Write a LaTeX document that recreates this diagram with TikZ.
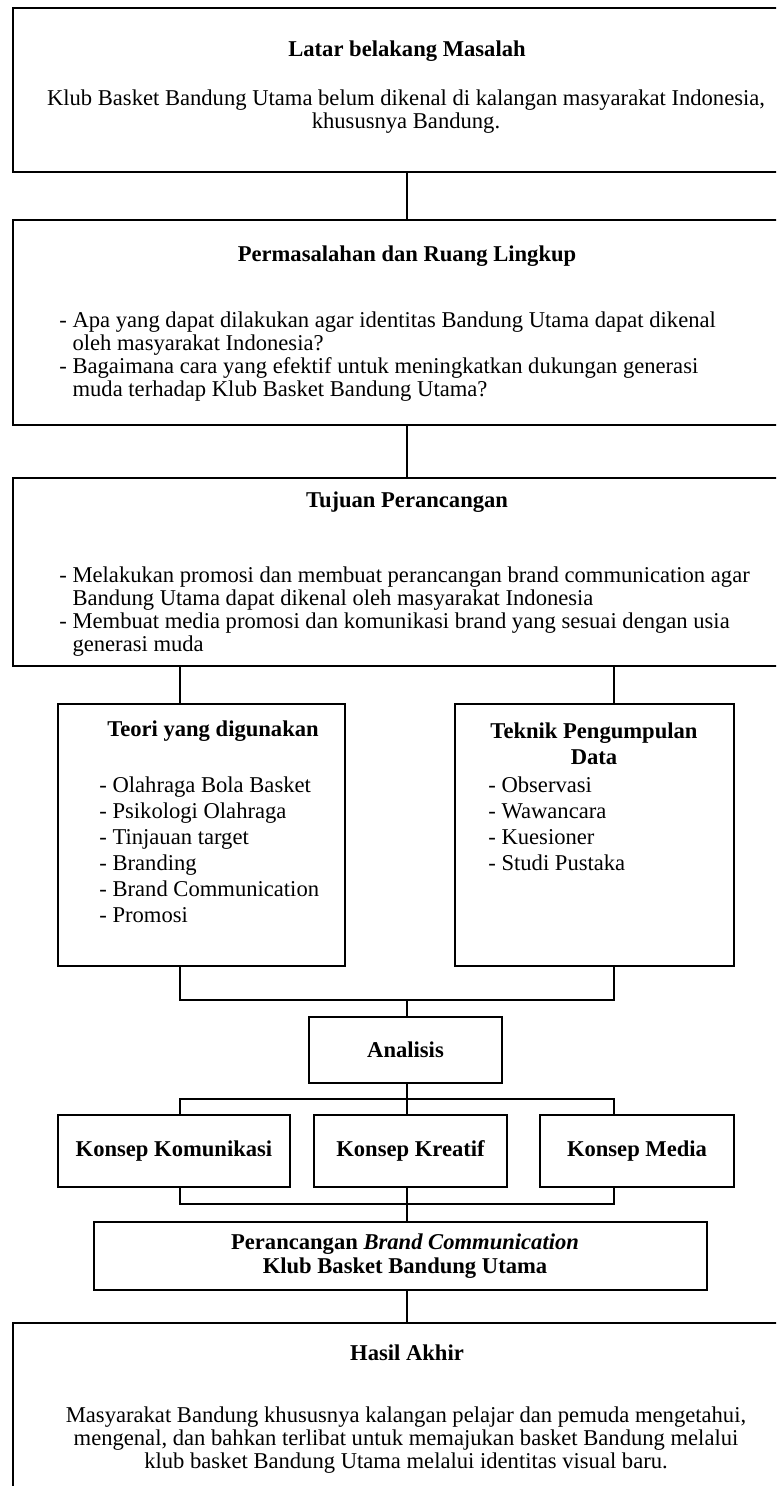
\documentclass[tikz,border=0pt]{standalone}
\usepackage{fontspec}
\setmainfont{Liberation Serif}
\usetikzlibrary{positioning,fit}

\begin{document}
\begin{tikzpicture}[x=0.5pt,y=-0.5pt,
 font=\fontsize{11.3}{11.5}\selectfont,
 box/.style={draw,line width=0.8pt,inner sep=0pt},
 ttl/.style={font=\fontsize{11.3}{13}\selectfont\bfseries,inner sep=0pt,align=center},
 body/.style={inner sep=0pt,anchor=west,align=left},
 list/.style={body,font=\fontsize{11.3}{13}\selectfont},
 conn/.style={line width=0.7pt}]
\useasboundingbox (0,0) rectangle (776,1486);
\clip (0,0) rectangle (776,1486);
% columns for the connectors
\coordinate (bl) at (180,0);
\coordinate (mc) at (407,0);
\coordinate (br) at (614,0);
% boxes
\node[box,fit={(13,8) (801,172)}] (latar) {};
\node[box,fit={(13,220) (801,425)}] (masalah) {};
\node[box,fit={(13,478) (801,666)}] (tujuan) {};
\node[box,fit={(58,704) (345,966)}] (teori) {};
\node[box,fit={(455,704) (734,966)}] (teknik) {};
\node[box,fit={(309,1017) (502,1083)}] (analisis) {};
\node[box,fit={(58,1115) (290,1187)}] (kom) {};
\node[box,fit={(314,1115) (507,1187)}] (kreatif) {};
\node[box,fit={(540,1115) (734,1187)}] (media) {};
\node[box,line width=1.2pt,fit={(94,1222) (707,1290)}] (rancang) {};
\node[box,fit={(13,1323) (801,1500)}] (akhir) {};
% texts
\node[ttl] (latarT) at (407,51) {Latar belakang Masalah};
\node[inner sep=0pt,align=center] (latarB) at (406,112) {Klub Basket Bandung Utama belum dikenal di kalangan masyarakat Indonesia,\\khususnya Bandung.};
\node[ttl] (masalahT) at (407,256) {Permasalahan dan Ruang Lingkup};
\node[body] (masalahB) at (59,357) {- Apa yang dapat dilakukan agar identitas Bandung Utama dapat dikenal\\
\phantom{- }oleh masyarakat Indonesia?\\
- Bagaimana cara yang efektif untuk meningkatkan dukungan generasi\\
\phantom{- }muda terhadap Klub Basket Bandung Utama?};
\node[ttl] (tujuanT) at (407,502) {Tujuan Perancangan};
\node[body] (tujuanB) at (59,612) {- Melakukan promosi dan membuat perancangan brand communication agar\\
\phantom{- }Bandung Utama dapat dikenal oleh masyarakat Indonesia\\
- Membuat media promosi dan komunikasi brand yang sesuai dengan usia\\
\phantom{- }generasi muda};
\node[ttl] (teoriT) at (213,731) {Teori yang digunakan};
\node[list] (teoriB) at (99,850) {- Olahraga Bola Basket\\- Psikologi Olahraga\\- Tinjauan target\\- Branding\\- Brand Communication\\- Promosi};
\node[ttl] (teknikT) at (594,744) {Teknik Pengumpulan\\Data};
\node[list] (teknikB) at (488,824) {- Observasi\\- Wawancara\\- Kuesioner\\- Studi Pustaka};
\node[ttl] (analisisT) at (analisis) {Analisis};
\node[ttl] (komT) at (kom) {Konsep Komunikasi};
\node[ttl] (kreatifT) at (kreatif) {Konsep Kreatif};
\node[ttl] (mediaT) at (media) {Konsep Media};
\node[ttl,font=\fontsize{11.3}{12}\selectfont\bfseries] (rancangT) at (405,1256) {Perancangan \textit{Brand Communication}\\Klub Basket Bandung Utama};
\node[ttl] (akhirT) at (407,1353) {Hasil Akhir};
\node[inner sep=0pt,align=center] (akhirB) at (406,1440) {Masyarakat Bandung khususnya kalangan pelajar dan pemuda mengetahui,\\mengenal, dan bahkan terlibat untuk memajukan basket Bandung melalui\\klub basket Bandung Utama melalui identitas visual baru.};
% junctions
\coordinate (j1) at (407,1000);
\coordinate (j2) at (407,1099);
\coordinate (j3) at (407,1204);
% connectors
\draw[conn] (latar.south -| mc) -- (masalah.north -| mc);
\draw[conn] (masalah.south -| mc) -- (tujuan.north -| mc);
\draw[conn] (tujuan.south -| bl) -- (teori.north -| bl);
\draw[conn] (tujuan.south -| br) -- (teknik.north -| br);
\draw[conn] (teori.south -| bl) |- (j1) -| (teknik.south -| br);
\draw[conn] (j1) -- (analisis.north -| j1);
\draw[conn] (analisis.south -| j2) -- (j2);
\draw[conn] (kom.north -| bl) |- (j2) -| (media.north -| br);
\draw[conn] (j2) -- (kreatif.north -| j2);
\draw[conn] (kom.south -| bl) |- (j3) -| (media.south -| br);
\draw[conn] (kreatif.south -| j3) -- (j3);
\draw[conn] (j3) -- (rancang.north -| j3);
\draw[conn] (rancang.south -| mc) -- (akhir.north -| mc);
\end{tikzpicture}
\end{document}
